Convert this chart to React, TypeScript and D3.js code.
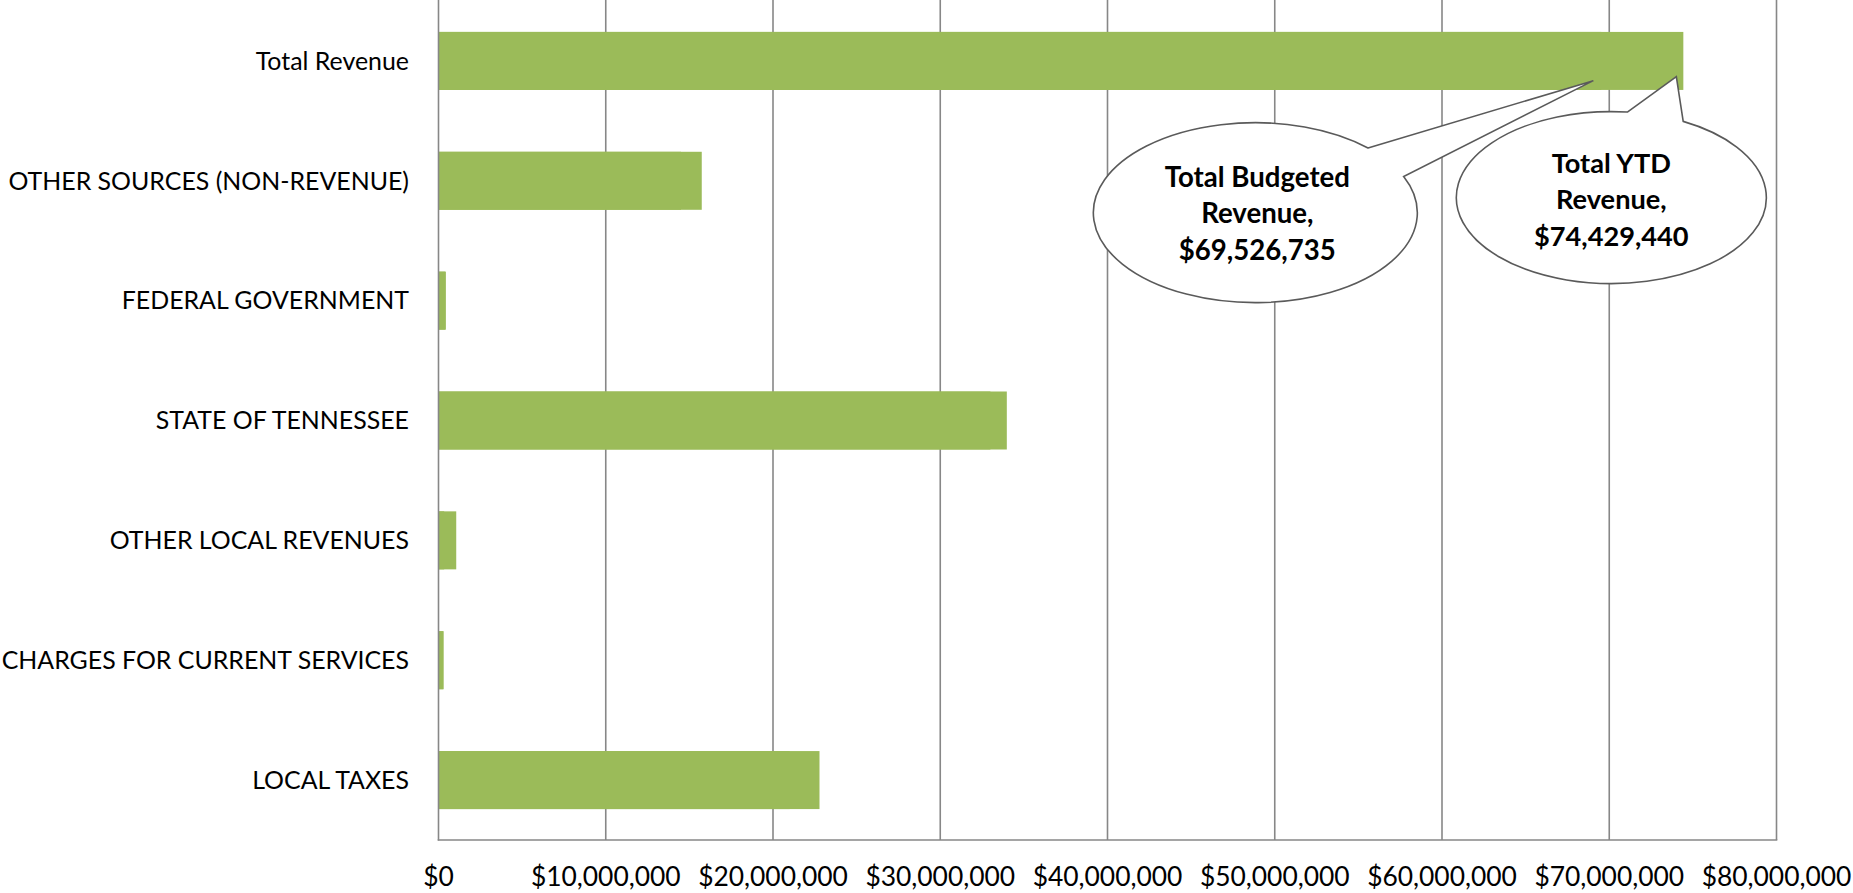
import React from "react";
import * as d3 from "d3";

const categories = [
  "Total Revenue",
  "OTHER SOURCES (NON-REVENUE)",
  "FEDERAL GOVERNMENT",
  "STATE OF TENNESSEE",
  "OTHER LOCAL REVENUES",
  "CHARGES FOR CURRENT SERVICES",
  "LOCAL TAXES",
];
const budgeted = [69526735, 14500000, 400000, 33000000, 340000, 290000, 21000000];
const ytd = [74429440, 15740000, 440000, 33980000, 1060000, 300000, 22780000];
const ticks = [0, 10000000, 20000000, 30000000, 40000000, 50000000, 60000000, 70000000, 80000000];

const W = 1853;
const H = 893;
const GREEN = "#9BBB59";
const GRID = "#878787";
const FONT = "Lato, 'Open Sans', sans-serif";

function calloutPath(cx: number, cy: number, rx: number, ry: number, a1: number, a2: number, tx: number, ty: number) {
  const p1 = [cx + rx * Math.cos(a1), cy + ry * Math.sin(a1)];
  const p2 = [cx + rx * Math.cos(a2), cy + ry * Math.sin(a2)];
  return `M${p1[0]},${p1[1]} L${tx},${ty} L${p2[0]},${p2[1]} A${rx},${ry} 0 1 1 ${p1[0]},${p1[1]} Z`;
}

export default function App() {
  const x = d3.scaleLinear().domain([0, 80000000]).range([438.5, 1776.5]);
  const y = d3.scaleBand<string>().domain(categories).range([1, 840]).paddingInner(0.516).paddingOuter(0.258);
  const fmt = (v: number) => "$" + d3.format(",")(v);
  const bw = y.bandwidth();
  const totalY = y(categories[0])!;

  // callout geometry (anchored to the Total Revenue bar)
  const bTipX = x(budgeted[0]) - 8;
  const bTipY = totalY + bw * 0.84;
  const yTipX = x(ytd[0]) - 7;
  const yTipY = totalY + bw * 0.77;
  const bC = { cx: bTipX - 338, cy: bTipY + 132, rx: 162, ry: 90 };
  const yC = { cx: yTipX - 65, cy: yTipY + 121, rx: 155, ry: 86 };
  const bA1 = Math.atan2(-0.719, 0.696);
  const bA2 = Math.atan2(-0.403, 0.917);
  const yA1 = Math.atan2(-0.991, 0.103);
  const yA2 = Math.atan2(-0.881, 0.461);

  return (
    <svg width={W} height={H} style={{ position: "absolute", left: 0, top: 0, background: "#fff" }} fontFamily={FONT}>
      {/* gridlines */}
      {ticks.slice(1).map((t) => (
        <line key={t} x1={x(t)} x2={x(t)} y1={0} y2={840} stroke={GRID} strokeWidth={1.6} />
      ))}
      {/* bars: budgeted underneath, YTD on top */}
      {categories.map((c, i) => (
        <rect key={"b" + c} x={x(0)} y={y(c)!} width={x(budgeted[i]) - x(0)} height={bw} fill={GREEN} />
      ))}
      {categories.map((c, i) => (
        <rect key={"y" + c} x={x(0)} y={y(c)!} width={x(ytd[i]) - x(0)} height={bw} fill={GREEN} />
      ))}
      {/* axes */}
      <line x1={x(0)} x2={x(0)} y1={0} y2={840.5} stroke={GRID} strokeWidth={1.6} />
      <line x1={x(0) - 0.8} x2={x(80000000) + 0.8} y1={840} y2={840} stroke={GRID} strokeWidth={1.6} />
      {/* tick labels */}
      {ticks.map((t) => (
        <text key={"t" + t} x={x(t)} y={886} textAnchor="middle" fontSize={26.4} fill="#000">
          {fmt(t)}
        </text>
      ))}
      {/* category labels */}
      {categories.map((c) => (
        <text key={"c" + c} x={409} y={y(c)! + bw / 2} dy="0.35em" textAnchor="end" fontSize={24.9} fill="#000">
          {c}
        </text>
      ))}
      {/* callouts */}
      <path d={calloutPath(bC.cx, bC.cy, bC.rx, bC.ry, bA1, bA2, bTipX, bTipY)} fill="#fff" stroke="#5a5a5a" strokeWidth={1.6} />
      <path d={calloutPath(yC.cx, yC.cy, yC.rx, yC.ry, yA1, yA2, yTipX, yTipY)} fill="#fff" stroke="#5a5a5a" strokeWidth={1.6} />
      {["Total Budgeted", "Revenue,", fmt(budgeted[0])].map((s, i) => (
        <text key={"bl" + i} x={bC.cx + 2} y={bC.cy - 26 + i * 36.7} textAnchor="middle" fontSize={27.6} fontWeight="bold" fill="#000">
          {s}
        </text>
      ))}
      {["Total YTD", "Revenue,", fmt(ytd[0])].map((s, i) => (
        <text key={"yl" + i} x={yC.cx} y={yC.cy - 25 + i * 36.7} textAnchor="middle" fontSize={27.2} fontWeight="bold" fill="#000">
          {s}
        </text>
      ))}
    </svg>
  );
}
